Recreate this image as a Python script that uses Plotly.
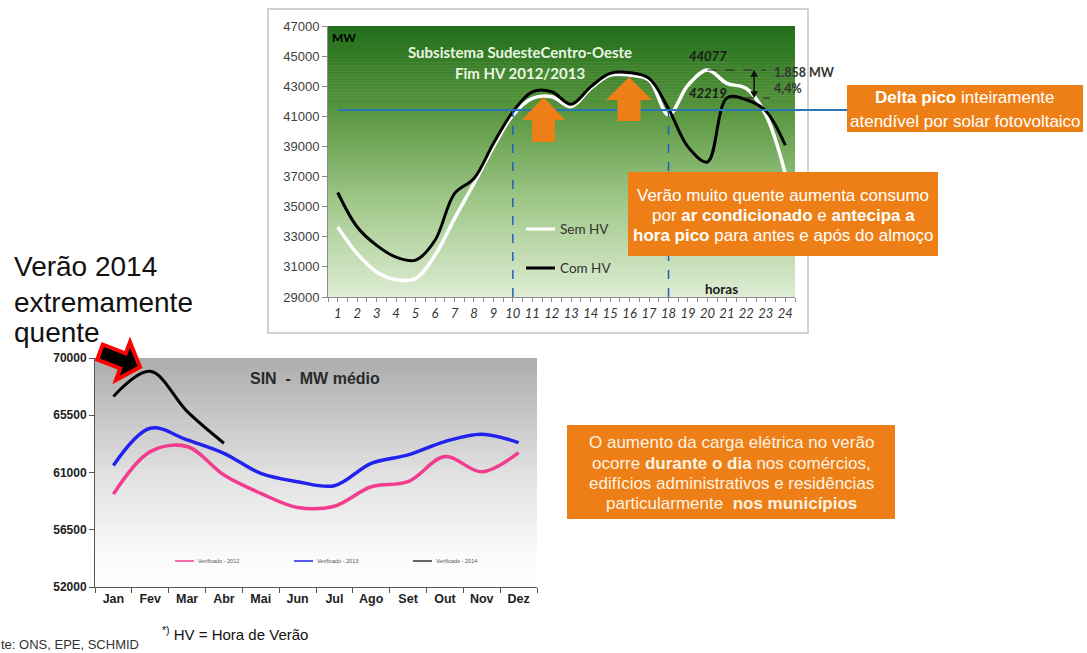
import plotly.graph_objects as go

W, H = 1087, 653

# ---------------- data ----------------
hours = list(range(1, 25))
sem_hv = [33650, 31880, 30660, 30150, 30220, 31770, 34210, 36540, 38970, 41080, 42190, 42300,
          41640, 42850, 43740, 43740, 43410, 41100, 43070, 44077, 43190, 42850, 41100, 37200]
com_hv = [35940, 33650, 32430, 31650, 31450, 32770, 35870, 36870, 39200, 41300, 42630, 42630,
          41800, 42960, 43850, 43900, 43520, 41500, 38970, 37970, 42219, 42100, 41350, 39080]
top_yticks = list(range(29000, 47001, 2000))
delta_line_value = 41420
peak_sem, peak_com = 44077, 42219

months = ['Jan', 'Fev', 'Mar', 'Abr', 'Mai', 'Jun', 'Jul', 'Ago', 'Set', 'Out', 'Nov', 'Dez']
v2012 = [59300, 62640, 63040, 60800, 59360, 58250, 58350, 59880, 60280, 62250, 61060, 62560]
v2013 = [61560, 64480, 63560, 62510, 60930, 60280, 59960, 61720, 62380, 63430, 64010, 63350]
v2014 = [66980, 68950, 65800, 63300]
bottom_yticks = [52000, 56500, 61000, 65500, 70000]

# ---------------- helpers ----------------
def fx(x):
    return x / W


def fy(y):
    return 1 - y / H


shapes = []
annotations = []


def rect(x0, y0, x1, y1, fill, line_color=None, lw=0, layer='above'):
    shapes.append(dict(type='rect', xref='paper', yref='paper',
                       x0=fx(x0), x1=fx(x1), y0=fy(y1), y1=fy(y0),
                       fillcolor=fill, layer=layer,
                       line=dict(color=line_color or fill, width=lw)))


def poly(pts, fill, line_color=None, lw=0, layer='above'):
    path = 'M ' + ' L '.join(f'{fx(x):.5f},{fy(y):.5f}' for x, y in pts) + ' Z'
    shapes.append(dict(type='path', xref='paper', yref='paper', path=path,
                       fillcolor=fill, layer=layer,
                       line=dict(color=line_color or fill, width=lw)))


def hline(x0, x1, y, color, lw, dash='solid'):
    shapes.append(dict(type='line', xref='paper', yref='paper',
                       x0=fx(x0), x1=fx(x1), y0=fy(y), y1=fy(y),
                       line=dict(color=color, width=lw, dash=dash)))


def text(x, y, s, size, color='#222', family='Liberation Sans, Arial, sans-serif',
         xanchor='center', weight='normal', style='normal'):
    annotations.append(dict(xref='paper', yref='paper', x=fx(x), y=fy(y), text=s,
                            showarrow=False, xanchor=xanchor, yanchor='middle',
                            font=dict(size=size, color=color, family=family,
                                      weight=weight, style=style)))


def lerp(stops, t):
    for i in range(len(stops) - 1):
        t0, c0 = stops[i]
        t1, c1 = stops[i + 1]
        if t0 <= t <= t1:
            u = (t - t0) / (t1 - t0) if t1 > t0 else 0
            c = [round(c0[k] + (c1[k] - c0[k]) * u) for k in range(3)]
            return f'rgb({c[0]},{c[1]},{c[2]})'
    c = stops[-1][1]
    return f'rgb({c[0]},{c[1]},{c[2]})'


# ---------------- geometry ----------------
TX0, TX1, TY0, TY1 = 328, 795, 26, 297
BX0, BX1, BY0, BY1 = 95, 537, 358, 587

# frame of top chart
rect(268, 9, 808, 333, 'white', '#c4c4c4', 1.5, layer='below')

# green gradient background
green_stops = [(0.0, (34, 110, 26)), (0.3, (86, 148, 60)), (0.65, (160, 200, 138)), (1.0, (222, 237, 212))]
N = 90
for i in range(N):
    y0 = TY0 + (TY1 - TY0) * i / N
    y1 = TY0 + (TY1 - TY0) * (i + 1) / N
    rect(TX0, y0, TX1, y1 + 0.6, lerp(green_stops, (i + 0.5) / N), layer='below')

# gray gradient background of bottom chart
gray_stops = [(0.0, (172, 172, 172)), (0.5, (224, 224, 224)), (0.85, (250, 250, 250)), (1.0, (255, 255, 255))]
N2 = 70
for i in range(N2):
    y0 = BY0 + (BY1 - BY0) * i / N2
    y1 = BY0 + (BY1 - BY0) * (i + 1) / N2
    rect(BX0, y0, BX1, y1 + 0.6, lerp(gray_stops, (i + 0.5) / N2), layer='below')

# ---------------- traces ----------------
fig = go.Figure()
fig.add_trace(go.Scatter(x=hours, y=sem_hv, mode='lines', name='Sem HV',
                         line=dict(color='white', width=3.5, shape='spline', smoothing=1.0),
                         xaxis='x', yaxis='y', showlegend=False, hoverinfo='skip'))
fig.add_trace(go.Scatter(x=hours, y=com_hv, mode='lines', name='Com HV',
                         line=dict(color='black', width=3, shape='spline', smoothing=1.0),
                         xaxis='x', yaxis='y', showlegend=False, hoverinfo='skip'))

fig.add_trace(go.Scatter(x=months, y=v2012, mode='lines', name='Verificado - 2012',
                         line=dict(color='#f23c8e', width=3.5, shape='spline', smoothing=1.0),
                         xaxis='x2', yaxis='y2', showlegend=False, hoverinfo='skip'))
fig.add_trace(go.Scatter(x=months, y=v2013, mode='lines', name='Verificado - 2013',
                         line=dict(color='#2222ee', width=3.5, shape='spline', smoothing=1.0),
                         xaxis='x2', yaxis='y2', showlegend=False, hoverinfo='skip'))
fig.add_trace(go.Scatter(x=months[:len(v2014)], y=v2014, mode='lines', name='Verificado - 2014',
                         line=dict(color='black', width=3, shape='spline', smoothing=1.0),
                         xaxis='x2', yaxis='y2', showlegend=False, hoverinfo='skip'))

# ---------------- top chart overlays ----------------
shapes.append(dict(type='line', xref='paper', yref='y', x0=fx(338), x1=fx(848),
                   y0=delta_line_value, y1=delta_line_value,
                   line=dict(color='#2a74b8', width=2)))
for h in (10, 18):
    shapes.append(dict(type='line', xref='x', yref='y', x0=h, x1=h,
                       y0=29000, y1=delta_line_value,
                       line=dict(color='#1f5fc0', width=1.5, dash='dash')))
shapes.append(dict(type='line', xref='x', yref='y', x0=20, x1=23, y0=peak_sem, y1=peak_sem,
                   line=dict(color='#222', width=1, dash='dash')))
shapes.append(dict(type='line', xref='x', yref='y', x0=21, x1=23.2, y0=peak_com, y1=peak_com,
                   line=dict(color='#222', width=1, dash='dash')))
# double-headed arrow between the two peaks
ax_h = 22.4
shapes.append(dict(type='line', xref='x', yref='y', x0=ax_h, x1=ax_h, y0=peak_com + 250, y1=peak_sem - 250,
                   line=dict(color='#111', width=1.5)))
shapes.append(dict(type='path', xref='x', yref='y',
                   path=f'M {ax_h},{peak_sem} L {ax_h - 0.2},{peak_sem - 450} L {ax_h + 0.2},{peak_sem - 450} Z',
                   fillcolor='#111', line=dict(color='#111', width=0)))
shapes.append(dict(type='path', xref='x', yref='y',
                   path=f'M {ax_h},{peak_com} L {ax_h - 0.2},{peak_com + 450} L {ax_h + 0.2},{peak_com + 450} Z',
                   fillcolor='#111', line=dict(color='#111', width=0)))

# orange up arrows
ORANGE = '#ee7f16'
def up_arrow(cx, top, base, bottom, head_half, shaft_half):
    poly([(cx, top), (cx + head_half, base), (cx + shaft_half, base), (cx + shaft_half, bottom),
          (cx - shaft_half, bottom), (cx - shaft_half, base), (cx - head_half, base)], ORANGE)

up_arrow(543.5, 97, 120, 142, 21.5, 11.5)
up_arrow(629, 77, 100, 121, 23, 11.5)

# legend inside top chart
hline(526, 555, 229, 'white', 3)
hline(526, 555, 268, 'black', 3)
text(558, 229, 'Sem HV', 13.5, '#333', 'Lato, sans-serif', 'left')
text(558, 268, 'Com HV', 13.5, '#333', 'Lato, sans-serif', 'left')

# texts in top chart
text(330, 38, 'MW', 12, '#000', 'Lato, sans-serif', 'left', weight='bold')
text(520, 52, 'Subsistema SudesteCentro-Oeste', 15, '#eaf6e2', 'Lato, sans-serif', weight='bold')
text(520, 73, 'Fim HV 2012/2013', 15, '#eaf6e2', 'Lato, sans-serif', weight='bold')
text(708, 56, '44077', 13, '#1a1a1a', 'Lato, sans-serif', weight='bold', style='italic')
text(708, 93, '42219', 13, '#1a1a1a', 'Lato, sans-serif', weight='bold', style='italic')
text(772, 72, '1.858 MW', 12.5, '#333', 'Lato, sans-serif', 'left', weight='bold')
text(772, 88, '4,4%', 12.5, '#333', 'Lato, sans-serif', 'left', weight='bold')
text(721, 289, 'horas', 13.5, '#1a1a1a', 'Lato, sans-serif', weight='bold')

# ---------------- orange boxes ----------------
rect(847, 85, 1083, 132, ORANGE)
text(965, 98, '<b>Delta pico</b> inteiramente', 17, 'white')
text(965, 121, 'atendível por solar fotovoltaico', 17, 'white')

rect(628, 172, 938, 256, ORANGE)
text(783, 195, 'Verão muito quente aumenta consumo', 17, 'white')
text(783, 215, 'por <b>ar condicionado</b> e <b>antecipa a</b>', 17, 'white')
text(783, 235, '<b>hora pico</b> para antes e após do almoço', 17, 'white')

rect(567, 425, 895, 519, ORANGE)
for yy, s in zip((443, 463, 483, 503), (
        'O aumento da carga elétrica no verão',
        'ocorre <b>durante o dia</b> nos comércios,',
        'edifícios administrativos e residências',
        'particularmente  <b>nos municípios</b>')):
    text(731, yy, s, 17, '#fdf3e4')

# ---------------- left texts ----------------
text(12, 266, 'Verão 2014', 28, '#111', xanchor='left')
text(12, 302, 'extremamente', 28, '#111', xanchor='left')
text(12, 332, 'quente', 28, '#111', xanchor='left')

# red/black arrow
poly([(102.8, 344.5), (125.8, 353.5), (130, 342), (140, 367), (116, 380), (120.2, 368.5), (97.2, 359.5)],
     '#000000', '#ff0000', 4)

# ---------------- bottom chart texts ----------------
text(315, 378, 'SIN  -  MW médio', 16, '#2a2a2a', weight='bold')
for (x0, color, label) in ((175, '#f23c8e', 'Verificado - 2012'),
                           (294, '#2222ee', 'Verificado - 2013'),
                           (413, '#333333', 'Verificado - 2014')):
    hline(x0, x0 + 19, 561, color, 1.5)
    text(x0 + 21, 561, label, 5.5, '#555', xanchor='left')

# ---------------- footer ----------------
text(160, 633, '<sup>*)</sup> HV = Hora de Verão', 15, '#111', xanchor='left')
text(-1, 644, 'te: ONS, EPE, SCHMID', 13, '#333', xanchor='left')

# ---------------- layout ----------------
fig.update_layout(
    width=W, height=H, margin=dict(l=0, r=0, t=0, b=0, autoexpand=False),
    paper_bgcolor='white', plot_bgcolor='rgba(0,0,0,0)',
    showlegend=False,
    xaxis=dict(domain=[fx(TX0), fx(TX1)], range=[0.5, 24.5], anchor='y',
               tickmode='array', tickvals=hours, ticktext=[str(h) for h in hours],
               tickfont=dict(family='Lato, sans-serif', size=13, color='#333', style='italic'),
               showline=True, linecolor='#8c8c8c', linewidth=1,
               ticks='outside', ticklen=4, tickcolor='#8c8c8c',
               minor=dict(ticks='outside', tickvals=[h + 0.5 for h in range(0, 25)],
                          ticklen=4, tickcolor='#8c8c8c'),
               showgrid=False, zeroline=False, automargin=False),
    yaxis=dict(domain=[fy(TY1), fy(TY0)], range=[29000, 47000], anchor='x',
               tickmode='array', tickvals=top_yticks, ticktext=[str(v) for v in top_yticks],
               tickfont=dict(family='Liberation Sans, Arial, sans-serif', size=13, color='#404040'),
               showline=True, linecolor='#8c8c8c', linewidth=1,
               ticks='outside', ticklen=5, tickcolor='#8c8c8c',
               showgrid=False, zeroline=False, automargin=False),
    xaxis2=dict(domain=[fx(BX0), fx(BX1)], type='category', categoryorder='array',
                categoryarray=months, range=[-0.5, 11.5], anchor='y2',
                tickfont=dict(family='Liberation Sans, Arial, sans-serif', size=12.5,
                              color='#222', weight='bold'),
                showline=True, linecolor='#555', linewidth=1,
                ticks='outside', tickson='boundaries', ticklen=5, tickcolor='#555',
                showgrid=False, zeroline=False, automargin=False),
    yaxis2=dict(domain=[fy(BY1), fy(BY0)], range=[52000, 70000], anchor='x2',
                tickmode='array', tickvals=bottom_yticks, ticktext=[str(v) for v in bottom_yticks],
                tickfont=dict(family='Liberation Sans, Arial, sans-serif', size=12,
                              color='#222', weight='bold'),
                showline=True, linecolor='#555', linewidth=1,
                ticks='outside', ticklen=5, tickcolor='#555',
                showgrid=False, zeroline=False, automargin=False),
    shapes=shapes,
    annotations=annotations,
)

fig.write_html('out.html')
